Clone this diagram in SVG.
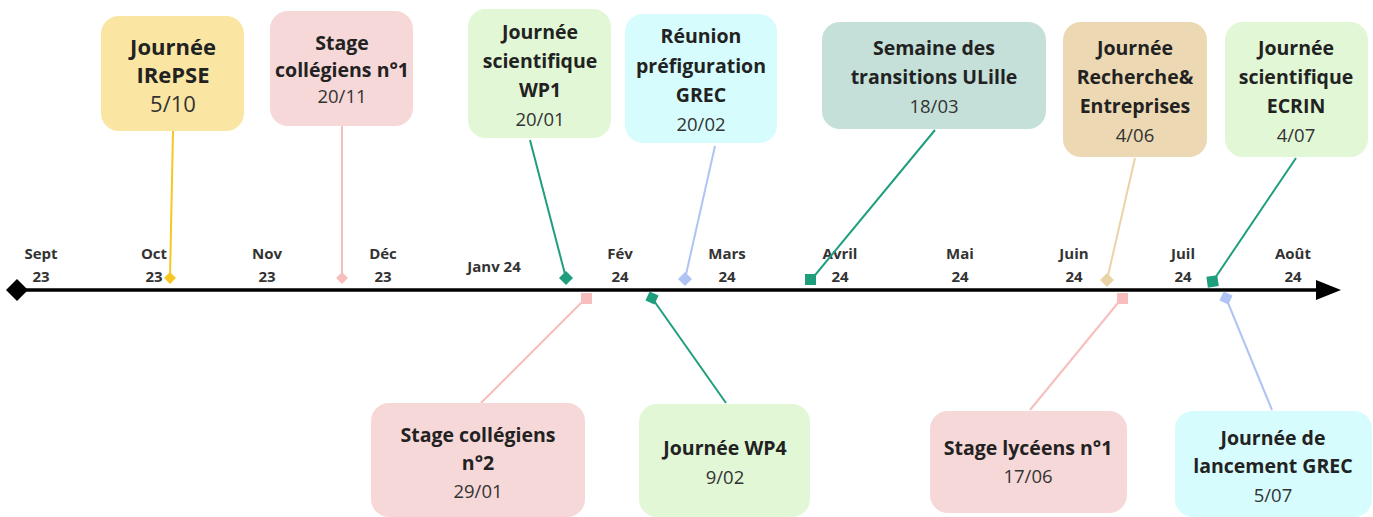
<svg xmlns="http://www.w3.org/2000/svg" width="1373" height="517" viewBox="0 0 1373 517">
<style>
.t{font-family:"Open Sans","Liberation Sans",sans-serif;font-weight:700;fill:#222;text-anchor:middle;font-size:19.5px}
.d{font-family:"Open Sans","Liberation Sans",sans-serif;font-weight:400;fill:#333;text-anchor:middle;font-size:18.5px}
.m{font-family:"Open Sans","Liberation Sans",sans-serif;font-weight:700;fill:#333;text-anchor:middle;font-size:15px}
.yel{fill:#FAE6A2}.pink{fill:#F6D8D8}.green{fill:#E1F7D5}.cyan{fill:#D6FCFD}.teal{fill:#C4E0D9}.tan{fill:#ECD8B2}
</style>
<g id="axis">
<line x1="17" y1="290" x2="1322" y2="290" stroke="#000" stroke-width="3.5"/>
<path d="M1316 280 L1341 290 L1316 300 Z" fill="#000"/>
<path d="M17 279 L28 290 L17 301 L6 290 Z" fill="#000"/>
</g>
<g id="months">
<text class="m" x="41" y="259">Sept</text><text class="m" x="41" y="282">23</text>
<text class="m" x="154" y="259">Oct</text><text class="m" x="154" y="282">23</text>
<text class="m" x="267" y="259">Nov</text><text class="m" x="267" y="282">23</text>
<text class="m" x="383" y="259">Déc</text><text class="m" x="383" y="282">23</text>
<text class="m" x="494" y="272">Janv 24</text>
<text class="m" x="620" y="259">Fév</text><text class="m" x="620" y="282">24</text>
<text class="m" x="727" y="259">Mars</text><text class="m" x="727" y="282">24</text>
<text class="m" x="840" y="259">Avril</text><text class="m" x="840" y="282">24</text>
<text class="m" x="960" y="259">Mai</text><text class="m" x="960" y="282">24</text>
<text class="m" x="1074" y="259">Juin</text><text class="m" x="1074" y="282">24</text>
<text class="m" x="1183" y="259">Juil</text><text class="m" x="1183" y="282">24</text>
<text class="m" x="1293" y="259">Août</text><text class="m" x="1293" y="282">24</text>
</g>
<g id="connectors" stroke-width="2" fill="none">
<line x1="173" y1="131" x2="170" y2="278" stroke="#F5C723"/>
<path d="M170 272 L176 278 L170 284 L164 278 Z" fill="#F5C723" stroke="none"/>
<line x1="342" y1="126" x2="342" y2="278" stroke="#F8BDBD"/>
<path d="M342 272 L348 278 L342 284 L336 278 Z" fill="#F8BDBD" stroke="none"/>
<line x1="530" y1="140" x2="566" y2="278" stroke="#1F9E7E"/>
<path d="M566 271 L573 278 L566 285 L559 278 Z" fill="#1F9E7E" stroke="none"/>
<line x1="715" y1="146" x2="685" y2="279" stroke="#AFC3F5"/>
<path d="M685 272 L692 279 L685 286 L678 279 Z" fill="#AFC3F5" stroke="none"/>
<line x1="935" y1="130" x2="811" y2="280" stroke="#1F9E7E"/>
<rect x="805" y="274" width="11" height="11" fill="#1F9E7E" stroke="none"/>
<line x1="1135" y1="158" x2="1107" y2="280" stroke="#E9D4A8"/>
<path d="M1107 273 L1114 280 L1107 287 L1100 280 Z" fill="#E9D4A8" stroke="none"/>
<line x1="1296" y1="158" x2="1213" y2="281" stroke="#1F9E7E"/>
<rect x="1207" y="276" width="11" height="11" fill="#1F9E7E" stroke="none" transform="rotate(-8 1212 281)"/>
<line x1="481" y1="403" x2="586" y2="298" stroke="#F8BDBD"/>
<rect x="581" y="293" width="11" height="11" fill="#F8BDBD" stroke="none"/>
<line x1="726" y1="403" x2="652" y2="298" stroke="#1F9E7E"/>
<path d="M652 291 L659 298 L652 305 L645 298 Z" fill="#1F9E7E" stroke="none" transform="rotate(-20 652 298)"/>
<line x1="1030" y1="410" x2="1122" y2="298" stroke="#F8BDBD"/>
<rect x="1117" y="293" width="11" height="11" fill="#F8BDBD" stroke="none"/>
<line x1="1272" y1="410" x2="1226" y2="298" stroke="#AFC3F5"/>
<path d="M1226 291 L1233 298 L1226 305 L1219 298 Z" fill="#AFC3F5" stroke="none" transform="rotate(-20 1226 298)"/>
</g>
<g id="n1"><rect class="yel" x="101" y="16" width="143" height="115" rx="18"/>
<text class="t" style="font-size:22px" x="173" y="55">Journée</text><text class="t" style="font-size:22px" x="173" y="83">IRePSE</text><text class="d" style="font-size:22px" x="173" y="112">5/10</text></g>
<g id="n2"><rect class="pink" x="270" y="11" width="143" height="115" rx="18"/>
<text class="t" x="342" y="50">Stage</text><text class="t" x="342" y="77">collégiens n°1</text><text class="d" x="342" y="103">20/11</text></g>
<g id="n3"><rect class="green" x="468" y="9" width="143" height="129" rx="18"/>
<text class="t" x="540" y="39">Journée</text><text class="t" x="540" y="68">scientifique</text><text class="t" x="540" y="97">WP1</text><text class="d" x="540" y="126">20/01</text></g>
<g id="n4"><rect class="cyan" x="625" y="14" width="152" height="129" rx="18"/>
<text class="t" x="701" y="43">Réunion</text><text class="t" x="701" y="73">préfiguration</text><text class="t" x="701" y="102">GREC</text><text class="d" x="701" y="131">20/02</text></g>
<g id="n5"><rect class="teal" x="822" y="22" width="224" height="107" rx="18"/>
<text class="t" x="934" y="55">Semaine des</text><text class="t" x="934" y="84">transitions ULille</text><text class="d" x="934" y="113">18/03</text></g>
<g id="n6"><rect class="tan" x="1063" y="22" width="144" height="135" rx="18"/>
<text class="t" x="1135" y="55">Journée</text><text class="t" x="1135" y="84">Recherche&amp;</text><text class="t" x="1135" y="113">Entreprises</text><text class="d" x="1135" y="142">4/06</text></g>
<g id="n7"><rect class="green" x="1225" y="22" width="143" height="135" rx="18"/>
<text class="t" x="1296" y="55">Journée</text><text class="t" x="1296" y="84">scientifique</text><text class="t" x="1296" y="113">ECRIN</text><text class="d" x="1296" y="142">4/07</text></g>
<g id="n8"><rect class="pink" x="371" y="403" width="214" height="114" rx="18"/>
<text class="t" x="478" y="442">Stage collégiens</text><text class="t" x="478" y="470">n°2</text><text class="d" x="478" y="498">29/01</text></g>
<g id="n9"><rect class="green" x="639" y="404" width="171" height="113" rx="18"/>
<text class="t" x="725" y="455">Journée WP4</text><text class="d" x="725" y="484">9/02</text></g>
<g id="n10"><rect class="pink" x="930" y="411" width="197" height="102" rx="18"/>
<text class="t" x="1028" y="455">Stage lycéens n°1</text><text class="d" x="1028" y="483">17/06</text></g>
<g id="n11"><rect class="cyan" x="1175" y="411" width="197" height="106" rx="18"/>
<text class="t" x="1273" y="445">Journée de</text><text class="t" x="1273" y="473">lancement GREC</text><text class="d" x="1273" y="502">5/07</text></g>
</svg>
